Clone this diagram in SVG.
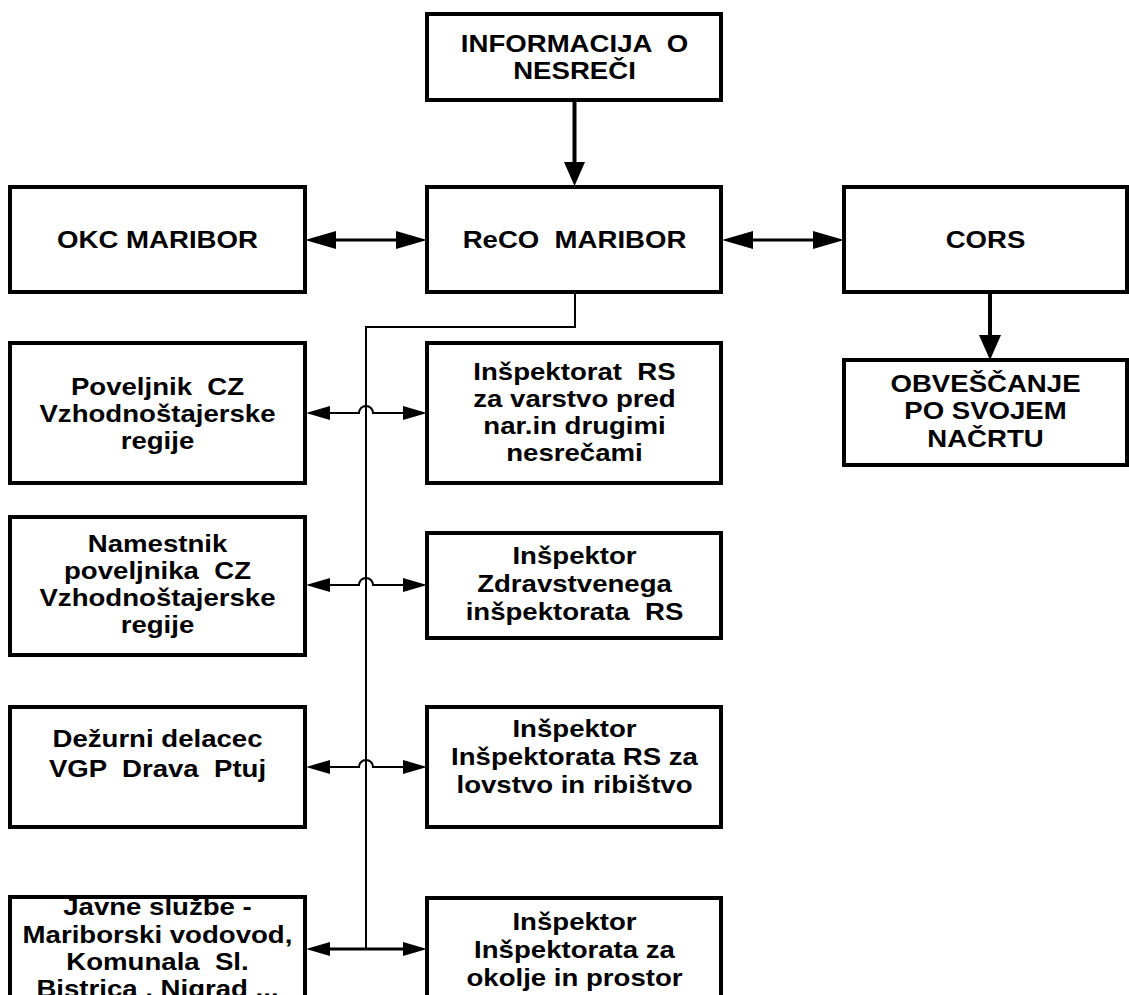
<svg xmlns="http://www.w3.org/2000/svg" width="1129" height="995" viewBox="0 0 1129 995">
<style>
.box{fill:#fff;stroke:#000;stroke-width:4}
.bf{fill:#fff;stroke:none}
.bs{fill:none;stroke:#000;stroke-width:4}
.t{font-family:"Liberation Sans",Arial,sans-serif;font-weight:bold;font-size:23px;fill:#000;text-anchor:middle;white-space:pre}
.thick{fill:none;stroke:#000;stroke-width:4}
.med{fill:none;stroke:#000;stroke-width:3}
.thin{fill:none;stroke:#000;stroke-width:2}
.head{fill:#000;stroke:none}
</style>
<defs>
<clipPath id="cJ"><rect x="12" y="899" width="291" height="200"/></clipPath>
</defs>
<rect width="1129" height="995" fill="#fff"/>

<g id="connectors">
<line class="thick" x1="574.5" y1="100" x2="574.5" y2="165"/>
<polygon class="head" points="564,162 585,162 574.5,186"/>
<line class="med" x1="330" y1="240" x2="400" y2="240"/>
<polygon class="head" points="305,240 336,231 336,249"/>
<polygon class="head" points="427,240 396,231 396,249"/>
<line class="med" x1="745" y1="240" x2="820" y2="240"/>
<polygon class="head" points="722,240 753,231 753,249"/>
<polygon class="head" points="844,240 813,231 813,249"/>
<line class="thick" x1="990" y1="292" x2="990" y2="340"/>
<polygon class="head" points="979,335 1001,335 990,360"/>
<path class="thin" d="M575,292 V327 H366 V949"/>
<path class="thin" d="M320,413 H359 A7,7 0 0 1 373,413 H410"/>
<polygon class="head" points="306,413 330,406 330,420"/>
<polygon class="head" points="427,413 403,406 403,420"/>
<path class="thin" d="M320,585 H359 A7,7 0 0 1 373,585 H410"/>
<polygon class="head" points="306,585 330,578 330,592"/>
<polygon class="head" points="427,585 403,578 403,592"/>
<path class="thin" d="M320,767 H359 A7,7 0 0 1 373,767 H410"/>
<polygon class="head" points="306,767 330,760 330,774"/>
<polygon class="head" points="427,767 403,760 403,774"/>
<path class="med" d="M320,949 H410"/>
<polygon class="head" points="306,949 330,942 330,956"/>
<polygon class="head" points="427,949 403,942 403,956"/>
</g>

<g id="n-info">
<rect class="box" x="427" y="14" width="294" height="86"/>
<g transform="translate(574.5 0) scale(1.2 1)">
<text class="t" x="0" y="52">INFORMACIJA  O</text>
<text class="t" x="0" y="79">NESREČI</text>
</g>
</g>

<g id="n-okc">
<rect class="box" x="10" y="187" width="295" height="105"/>
<g transform="translate(157.5 0) scale(1.2 1)">
<text class="t" x="0" y="248">OKC MARIBOR</text>
</g>
</g>

<g id="n-reco">
<rect class="box" x="427" y="187" width="294" height="105"/>
<g transform="translate(574.5 0) scale(1.2 1)">
<text class="t" x="0" y="248">ReCO  MARIBOR</text>
</g>
</g>

<g id="n-cors">
<rect class="box" x="844" y="187" width="283" height="105"/>
<g transform="translate(985.5 0) scale(1.2 1)">
<text class="t" x="0" y="248">CORS</text>
</g>
</g>

<g id="n-obv">
<rect class="box" x="844" y="360" width="283" height="105"/>
<g transform="translate(985.5 0) scale(1.2 1)">
<text class="t" x="0" y="392">OBVEŠČANJE</text>
<text class="t" x="0" y="419">PO SVOJEM</text>
<text class="t" x="0" y="447">NAČRTU</text>
</g>
</g>

<g id="n-poveljnik">
<rect class="box" x="10" y="343" width="295" height="140"/>
<g transform="translate(157.5 0) scale(1.2 1)">
<text class="t" x="0" y="395">Poveljnik  CZ</text>
<text class="t" x="0" y="422">Vzhodnoštajerske</text>
<text class="t" x="0" y="449">regije</text>
</g>
</g>

<g id="n-inspektorat">
<rect class="box" x="427" y="343" width="294" height="140"/>
<g transform="translate(574.5 0) scale(1.2 1)">
<text class="t" x="0" y="380">Inšpektorat  RS</text>
<text class="t" x="0" y="407">za varstvo pred</text>
<text class="t" x="0" y="434">nar.in drugimi</text>
<text class="t" x="0" y="461">nesrečami</text>
</g>
</g>

<g id="n-namestnik">
<rect class="box" x="10" y="517" width="295" height="138"/>
<g transform="translate(157.5 0) scale(1.2 1)">
<text class="t" x="0" y="552">Namestnik</text>
<text class="t" x="0" y="579">poveljnika  CZ</text>
<text class="t" x="0" y="606">Vzhodnoštajerske</text>
<text class="t" x="0" y="633">regije</text>
</g>
</g>

<g id="n-zdrav">
<rect class="box" x="427" y="533" width="294" height="105"/>
<g transform="translate(574.5 0) scale(1.2 1)">
<text class="t" x="0" y="564">Inšpektor</text>
<text class="t" x="0" y="592">Zdravstvenega</text>
<text class="t" x="0" y="620">inšpektorata  RS</text>
</g>
</g>

<g id="n-dezurni">
<rect class="box" x="10" y="707" width="295" height="120"/>
<g transform="translate(157.5 0) scale(1.2 1)">
<text class="t" x="0" y="747">Dežurni delacec</text>
<text class="t" x="0" y="777">VGP  Drava  Ptuj</text>
</g>
</g>

<g id="n-lovstvo">
<rect class="box" x="427" y="707" width="294" height="120"/>
<g transform="translate(574.5 0) scale(1.2 1)">
<text class="t" x="0" y="737">Inšpektor</text>
<text class="t" x="0" y="765">Inšpektorata RS za</text>
<text class="t" x="0" y="793">lovstvo in ribištvo</text>
</g>
</g>

<g id="n-javne">
<rect class="bf" x="10" y="897" width="295" height="120"/>
<g clip-path="url(#cJ)">
<g transform="translate(157.5 0) scale(1.2 1)">
<text class="t" x="0" y="915">Javne službe -</text>
<text class="t" x="0" y="943">Mariborski vodovod,</text>
<text class="t" x="0" y="970">Komunala  Sl.</text>
<text class="t" x="0" y="997">Bistrica , Nigrad ...</text>
</g>
</g>
<rect class="bs" x="10" y="897" width="295" height="120"/>
</g>

<g id="n-okolje">
<rect class="box" x="427" y="898" width="294" height="120"/>
<g transform="translate(574.5 0) scale(1.2 1)">
<text class="t" x="0" y="930">Inšpektor</text>
<text class="t" x="0" y="958">Inšpektorata za</text>
<text class="t" x="0" y="986">okolje in prostor</text>
</g>
</g>
</svg>
